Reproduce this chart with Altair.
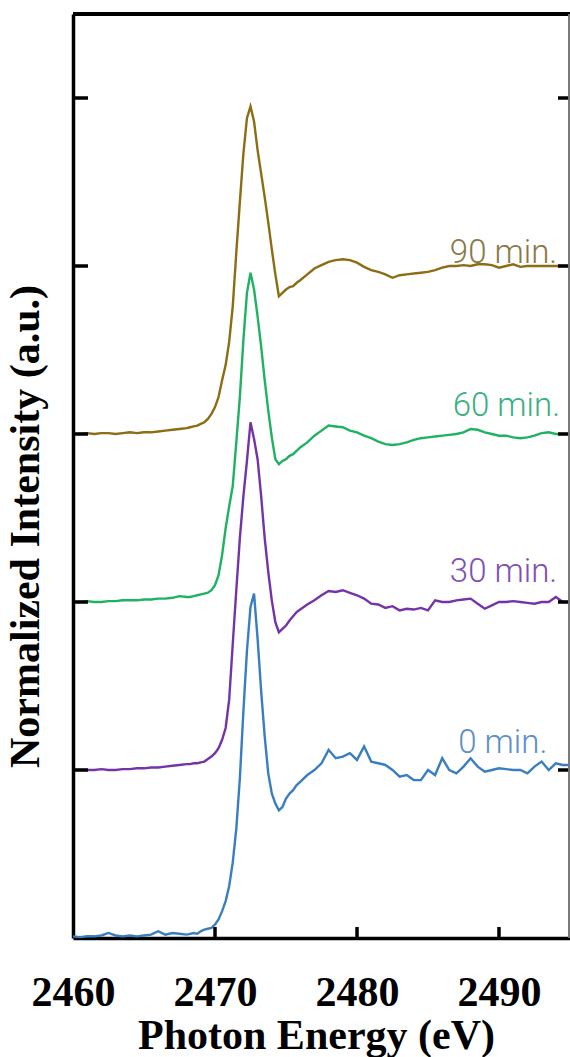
import altair as alt
import pandas as pd

# ---- energy grid (eV) ----
E_A = [2460.0, 2460.5, 2461.0, 2461.5, 2462.0, 2462.5, 2463.0, 2463.5, 2464.0,
       2464.5, 2465.0, 2465.5, 2466.0, 2466.5, 2467.0, 2467.5, 2468.0]
E_B = [2468.25, 2468.5, 2468.75, 2469.0, 2469.25, 2469.5, 2469.75, 2470.0,
       2470.25, 2470.5, 2470.75, 2471.0, 2471.25, 2471.5, 2471.75, 2472.0,
       2472.25, 2472.5, 2472.75, 2473.0, 2473.25, 2473.5, 2473.75, 2474.0,
       2474.25, 2474.5, 2474.75, 2475.0, 2475.25, 2475.5, 2475.75, 2476.0]
E_C = [2476.5, 2477.0, 2477.5, 2478.0, 2478.5, 2479.0, 2479.5, 2480.0,
       2480.5, 2481.0, 2481.5, 2482.0, 2482.5, 2483.0, 2483.5, 2484.0]
E_D = [2484.5, 2485.0, 2485.5, 2486.0, 2486.5, 2487.0, 2487.5, 2488.0,
       2488.5, 2489.0, 2489.5, 2490.0, 2490.5, 2491.0, 2491.5, 2492.0,
       2492.5, 2493.0, 2493.5, 2494.0, 2494.5, 2495.0]
energy = E_A + E_B + E_C + E_D

# ---- normalized intensity of each series (before vertical offset) ----
min0 = ([0.01, 0.005, 0.01, 0.01, 0.015, 0.03, 0.015, 0.01, 0.015, 0.01, 0.015, 0.02, 0.04, 0.02, 0.03, 0.025, 0.02]
        + [0.025, 0.03, 0.025, 0.04, 0.05, 0.055, 0.06, 0.08, 0.11, 0.16, 0.22, 0.31, 0.45, 0.65, 0.95, 1.35,
           1.71, 1.97, 2.05, 1.78, 1.47, 1.20, 0.98, 0.86, 0.80, 0.76, 0.78, 0.83, 0.86, 0.88, 0.91, 0.93]
        + [0.97, 1.0, 1.04, 1.12, 1.07, 1.08, 1.10, 1.06, 1.14, 1.05, 1.04, 1.03, 1.0, 0.96, 0.97, 0.94]
        + [0.94, 1.0, 0.97, 1.07, 1.0, 0.98, 1.02, 1.07, 1.02, 0.99, 1.0, 1.01, 1.005, 1.0, 1.0, 0.98,
           1.02, 1.05, 1.0, 1.04, 1.03, 1.03])
min30 = ([0.0, 0.0, 0.0, 0.0, 0.005, 0.0, 0.0, 0.005, 0.005, 0.01, 0.01, 0.015, 0.015, 0.02, 0.025, 0.03, 0.035]
         + [0.035, 0.04, 0.04, 0.045, 0.05, 0.065, 0.08, 0.10, 0.13, 0.18, 0.25, 0.42, 0.75, 1.07, 1.38, 1.63,
            1.84, 2.07, 1.97, 1.85, 1.63, 1.38, 1.18, 1.01, 0.88, 0.82, 0.84, 0.86, 0.89, 0.915, 0.94, 0.955]
         + [0.985, 1.01, 1.04, 1.065, 1.06, 1.07, 1.055, 1.04, 1.02, 0.99, 0.985, 0.965, 0.975, 0.95, 0.96, 0.955]
         + [0.965, 0.95, 1.01, 1.0, 1.0, 1.01, 1.015, 1.02, 0.99, 0.96, 0.98, 1.0, 1.0, 1.005, 1.0, 0.995,
            0.99, 1.0, 1.0, 1.03, 1.0, 1.0])
min60 = ([0.0, 0.0, 0.005, 0.0, 0.0, 0.005, 0.005, 0.01, 0.01, 0.01, 0.015, 0.015, 0.02, 0.02, 0.025, 0.035, 0.03]
         + [0.03, 0.035, 0.04, 0.045, 0.05, 0.055, 0.07, 0.10, 0.16, 0.28, 0.44, 0.57, 0.69, 0.95, 1.22, 1.56,
            1.84, 1.96, 1.86, 1.70, 1.52, 1.32, 1.14, 0.98, 0.85, 0.82, 0.84, 0.85, 0.87, 0.88, 0.90, 0.92]
         + [0.95, 0.99, 1.02, 1.05, 1.045, 1.04, 1.02, 1.01, 0.99, 0.975, 0.955, 0.94, 0.935, 0.94, 0.95, 0.965]
         + [0.975, 0.98, 0.985, 0.99, 0.995, 1.0, 1.01, 1.03, 1.025, 1.01, 1.0, 0.99, 0.99, 0.98, 0.975, 0.98,
            0.99, 1.005, 1.01, 1.0, 1.0, 1.0])
min90 = ([0.0, 0.0, 0.005, 0.0, 0.005, 0.005, 0.0, 0.005, 0.01, 0.005, 0.01, 0.01, 0.015, 0.02, 0.025, 0.03, 0.035]
         + [0.04, 0.045, 0.05, 0.06, 0.07, 0.09, 0.12, 0.16, 0.22, 0.32, 0.41, 0.55, 0.76, 1.08, 1.38, 1.67,
            1.88, 1.95, 1.86, 1.69, 1.55, 1.41, 1.26, 1.10, 0.95, 0.82, 0.84, 0.86, 0.875, 0.88, 0.90, 0.915]
         + [0.95, 0.985, 1.005, 1.025, 1.035, 1.04, 1.035, 1.02, 0.995, 0.975, 0.965, 0.95, 0.93, 0.945, 0.95, 0.955]
         + [0.96, 0.965, 0.975, 0.99, 1.0, 1.0, 1.005, 1.0, 1.01, 1.01, 1.005, 0.99, 1.0, 1.01, 0.995, 1.0,
            1.0, 1.0, 1.0, 1.0, 1.0, 1.0])

series_names = ["0 min.", "30 min.", "60 min.", "90 min."]
series_values = [min0, min30, min60, min90]
series_offsets = [0, 1, 2, 3]
line_colors = ["#3A7EC2", "#7434A8", "#1FB262", "#8C6D14"]
text_colors = ["#5A8FC9", "#7E4FB5", "#3AAF80", "#877A48"]

# label anchors (right edge, baseline) in data units
label_x = [2493.4, 2494.1, 2494.3, 2494.1]
label_y = [1.10, 2.12, 3.11, 4.02]

y_ticks = [1, 2, 3, 4, 5]
x_ticks = [2470, 2480, 2490]

rows = []
for name, vals, off in zip(series_names, series_values, series_offsets):
    assert len(vals) == len(energy), (name, len(vals), len(energy))
    for e, v in zip(energy, vals):
        rows.append({"energy": e, "intensity": v + off, "series": name})
df = pd.DataFrame(rows)
labels = pd.DataFrame({"series": series_names, "x": label_x, "y": label_y})

W, H = 497, 924
xscale = alt.Scale(domain=[2460, 2495], nice=False, zero=False)
yscale = alt.Scale(domain=[0, 5.5], nice=False, zero=False)
color_scale = alt.Scale(domain=series_names, range=line_colors)
text_scale = alt.Scale(domain=series_names, range=text_colors)

lines = alt.Chart(df).mark_line(strokeWidth=2.4).encode(
    x=alt.X("energy:Q", scale=xscale,
            axis=alt.Axis(values=[2460, 2470, 2480, 2490], format="d", grid=False,
                          ticks=False, domainColor="black", domainWidth=3.5,
                          labelFont="Liberation Serif", labelFontWeight="bold",
                          labelFontSize=42, labelColor="black", labelPadding=34,
                          labelFlush=False,
                          title="Photon Energy (eV)", titleFont="Liberation Serif",
                          titleFontWeight="bold", titleFontSize=42, titleColor="black",
                          titleBaseline="alphabetic", titleY=110, titleX=243)),
    y=alt.Y("intensity:Q", scale=yscale,
            axis=alt.Axis(values=y_ticks, labels=False, ticks=False, grid=False,
                          domainColor="black", domainWidth=3.5,
                          title="Normalized Intensity (a.u.)", titleFont="Liberation Serif",
                          titleFontWeight="bold", titleFontSize=42, titleColor="black",
                          titleAngle=270, titleAlign="center", titleBaseline="middle",
                          titleX=-48, titleY=512)),
    color=alt.Color("series:N", scale=color_scale, legend=None),
    order=alt.Order("energy:Q"),
)

text = alt.Chart(labels).mark_text(font="Roboto", fontSize=33, fontWeight=300,
                                    align="right", baseline="alphabetic").encode(
    x=alt.X("x:Q", scale=xscale),
    y=alt.Y("y:Q", scale=yscale),
    text="series:N",
    color=alt.Color("series:N", scale=text_scale, legend=None),
)

ytick_df = pd.DataFrame({"v": y_ticks})
xtick_df = pd.DataFrame({"v": x_ticks})

left_ticks = alt.Chart(ytick_df).mark_rule(color="black", strokeWidth=3.5).encode(
    y=alt.Y("v:Q", scale=yscale), x=alt.value(0), x2=alt.value(15))
right_ticks = alt.Chart(ytick_df).mark_rule(color="black", strokeWidth=3.5).encode(
    y=alt.Y("v:Q", scale=yscale), x=alt.value(485), x2=alt.value(W))
bottom_ticks = alt.Chart(xtick_df).mark_rule(color="black", strokeWidth=3.5).encode(
    x=alt.X("v:Q", scale=xscale), y=alt.value(H), y2=alt.value(H - 11))
top_border = alt.Chart(ytick_df).mark_rule(color="black", strokeWidth=3.5).encode(
    y=alt.value(0), x=alt.value(0), x2=alt.value(W))
right_border = alt.Chart(ytick_df).mark_rule(color="#777777", strokeWidth=1).encode(
    x=alt.value(W - 1), y=alt.value(0), y2=alt.value(H))

chart = alt.layer(lines, text, left_ticks, right_ticks, bottom_ticks, top_border,
                  right_border).resolve_scale(color="independent").properties(
    width=W, height=H,
    autosize=alt.AutoSizeParams(type="none"),
    padding={"left": 73, "top": 14, "right": 0, "bottom": 119},
    background="white",
).configure_view(stroke=None)

chart.save("out.html", embed_options={"renderer": "svg", "actions": False})
